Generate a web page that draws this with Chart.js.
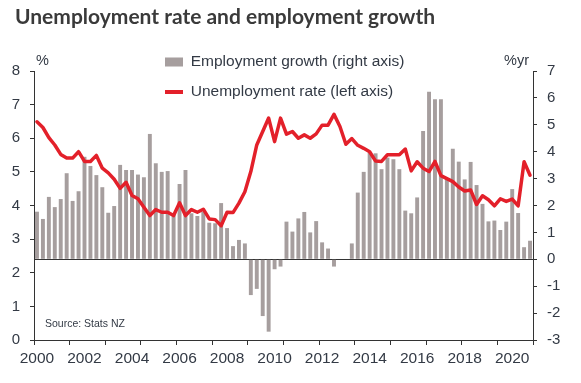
<!DOCTYPE html>
<html><head><meta charset="utf-8">
<script src="https://cdn.jsdelivr.net/npm/chart.js@4.4.1/dist/chart.umd.min.js"></script>
<style>html,body{margin:0;padding:0;background:#fff}#wrap{width:581px;height:383px;position:relative}</style>
</head><body><div id="wrap"><canvas id="c"></canvas></div>
<script>
// ---- data ----
const years = [2000,2001,2002,2003,2004,2005,2006,2007,2008,2009,2010,2011,2012,2013,2014,2015,2016,2017,2018,2019,2020];
const quarterNames = ['Q1','Q2','Q3','Q4'];
const categories = years.flatMap(y => quarterNames.map(q => y + ' ' + q));
const tickLabels = ['2000','2002','2004','2006','2008','2010','2012','2014','2016','2018','2020'];
const seriesNames = ['Employment growth (right axis)', 'Unemployment rate (left axis)'];
// Unemployment rate, %, left axis
const unemploymentRate = [
  6.49,6.32,6.02,5.80,5.52,5.41,5.41,5.60,5.31,5.31,
  5.49,5.11,4.97,4.78,4.51,4.69,4.30,4.20,3.95,3.70,
  3.88,3.80,3.80,3.70,4.08,3.70,3.88,3.80,3.89,3.60,
  3.58,3.40,3.80,3.79,4.07,4.41,5.01,5.80,6.20,6.60,
  5.90,6.60,6.12,6.20,6.00,6.10,6.00,6.13,6.39,6.39,
  6.71,6.35,5.82,5.99,5.79,5.70,5.60,5.32,5.31,5.51,
  5.51,5.51,5.68,5.03,5.30,5.11,5.01,5.31,4.89,4.80,
  4.71,4.55,4.43,4.46,4.03,4.29,4.17,3.99,4.20,4.12,
  4.19,3.99,5.30,4.90
];
// Employment growth, %yr, right axis
const employmentGrowth = [
  1.77,1.50,2.32,1.94,2.24,3.20,2.17,2.53,3.81,3.47,
  3.13,2.68,1.73,1.98,3.51,3.32,3.32,3.15,3.05,4.66,
  3.57,3.25,3.28,1.65,2.80,3.32,1.71,1.61,1.77,1.36,
  1.34,2.09,1.16,0.49,0.72,0.59,-1.33,-1.10,-2.11,-2.69,
  -0.37,-0.27,1.40,1.03,1.52,1.76,1.00,1.42,0.63,0.40,
  -0.27,0.00,0.00,0.59,2.48,3.25,3.96,3.94,3.35,3.78,
  3.72,3.35,1.81,1.71,2.30,4.77,6.23,5.95,5.95,3.00,
  4.11,3.63,2.97,3.62,2.76,2.06,1.41,1.44,1.09,1.40,
  2.61,1.72,0.45,0.69
];
const titleText = 'Unemployment rate and employment growth';
const unitLeft = '%';
const unitRight = '%yr';
const sourceText = 'Source: Stats NZ';

// ---- styles ----
const textColor = '#333a45';
const axisColor = '#333333';
const barColor = '#a69e9e';
const lineColor = '#e3202a';
const fontFamily = '"Liberation Sans", Arial, Helvetica, sans-serif';

const placeBlocks = {
  id: 'placeBlocks',
  beforeDraw(chart) {
    const lg = chart.legend;
    if (lg) {
      const pad = lg.options.labels.padding;
      lg.left = chart.chartArea.left + 131 - pad;
      lg.top = 39.75;
      lg.right = lg.left + 320;
      lg.bottom = lg.top + 80;
    }
    const tb = chart.titleBlock;
    if (tb) {
      tb.left = 15;
    }
  }
};

const extraText = {
  id: 'extraText',
  afterDraw(chart) {
    const ctx = chart.ctx;
    const a = chart.chartArea;
    ctx.save();
    ctx.fillStyle = textColor;
    ctx.textBaseline = 'middle';
    ctx.textAlign = 'left';
    ctx.font = '14.5px ' + fontFamily;
    ctx.fillText(unitLeft, a.left + 2, a.top - 10);
    ctx.fillText(unitRight, a.right - 29, a.top - 10);
    ctx.font = '10.5px ' + fontFamily;
    ctx.fillText(sourceText, a.left + 11, a.bottom - 15.5);
    ctx.restore();
  }
};

new Chart(document.getElementById('c'), {
  type: 'bar',
  data: {
    labels: categories,
    datasets: [
      {
        type: 'line',
        label: seriesNames[1],
        data: unemploymentRate,
        yAxisID: 'y',
        borderColor: lineColor,
        backgroundColor: lineColor,
        borderWidth: 3.5,
        pointRadius: 0,
        tension: 0,
        fill: false,
        borderJoinStyle: 'round',
        borderCapStyle: 'round'
      },
      {
        type: 'bar',
        label: seriesNames[0],
        data: employmentGrowth,
        yAxisID: 'y2',
        backgroundColor: barColor,
        borderWidth: 0,
        barPercentage: 0.66,
        categoryPercentage: 1.0
      }
    ]
  },
  options: {
    responsive: true,
    maintainAspectRatio: false,
    animation: false,
    events: [],
    layout: { padding: { left: 0, right: 0, top: 0, bottom: 0 } },
    plugins: {
      tooltip: { enabled: false },
      title: {
        display: true,
        text: titleText,
        align: 'start',
        color: '#3a3a3a',
        font: { family: 'Lato, "Open Sans", sans-serif', size: 21, weight: 'bold' },
        padding: { top: 4.4, bottom: 41.4 }
      },
      legend: {
        display: true,
        position: 'chartArea',
        align: 'start',
        labels: {
          usePointStyle: true,
          pointStyleWidth: 18,
          boxWidth: 18,
          boxHeight: 9,
          padding: 14.5,
          color: textColor,
          font: { family: fontFamily, size: 15.5 },
          generateLabels: () => [
            { text: seriesNames[0], fillStyle: barColor, strokeStyle: barColor, lineWidth: 0, pointStyle: 'rect', datasetIndex: 1, hidden: false, fontColor: textColor },
            { text: seriesNames[1], fillStyle: lineColor, strokeStyle: lineColor, lineWidth: 4, pointStyle: 'line', datasetIndex: 0, hidden: false, fontColor: textColor }
          ]
        }
      }
    },
    scales: {
      x: {
        type: 'category',
        offset: true,
        grid: {
          offset: true,
          drawOnChartArea: false,
          drawTicks: true,
          tickLength: 5,
          color: (ctx) => (ctx.index === undefined || ctx.index % 6 === 0) ? axisColor : 'rgba(0,0,0,0)'
        },
        border: { display: true, color: axisColor, width: 1 },
        ticks: {
          autoSkip: false,
          maxRotation: 0,
          minRotation: 0,
          padding: 4,
          color: textColor,
          font: { family: fontFamily, size: 15.5 },
          callback: (v, i) => (i % 8 === 0 ? tickLabels[i / 8] : '')
        },
        afterFit: (s) => { s.height = 43; }
      },
      y: {
        position: 'left',
        min: 0,
        max: 8,
        ticks: { stepSize: 1, padding: 10, color: textColor, font: { family: fontFamily, size: 15 } },
        grid: { drawOnChartArea: false, tickLength: 4, color: axisColor },
        border: { display: true, color: axisColor, width: 1 },
        afterFit: (s) => { s.width = 34; }
      },
      y2: {
        position: 'right',
        min: -3,
        max: 7,
        ticks: { stepSize: 1, padding: 10, color: textColor, font: { family: fontFamily, size: 15 } },
        grid: {
          drawOnChartArea: true,
          tickLength: 4,
          color: (ctx) => (ctx.tick && ctx.tick.value === 0) ? axisColor : 'rgba(0,0,0,0)',
          tickColor: axisColor
        },
        border: { display: true, color: axisColor, width: 1 },
        afterFit: (s) => { s.width = 48; }
      }
    }
  },
  plugins: [placeBlocks, extraText]
});
</script>
</body></html>
